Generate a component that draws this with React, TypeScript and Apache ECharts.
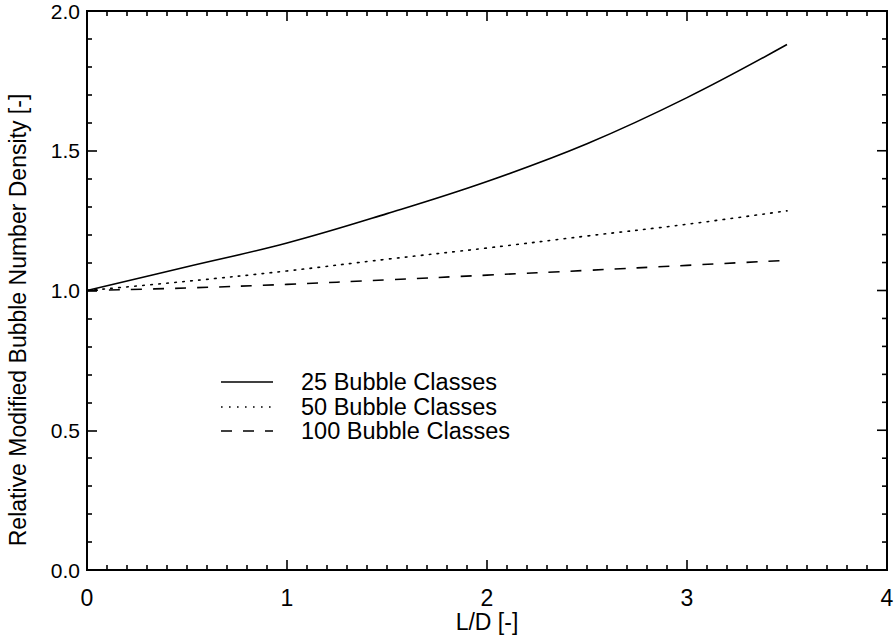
import React, { useEffect, useRef } from "react";
import * as echarts from "echarts";

const xValues = [0, 0.5, 1, 1.5, 2, 2.5, 3, 3.5];
const classes25 = [1.0, 1.085, 1.17, 1.275, 1.39, 1.525, 1.69, 1.88];
const classes50 = [1.0, 1.033, 1.07, 1.112, 1.152, 1.195, 1.237, 1.285];
const classes100 = [1.0, 1.009, 1.022, 1.038, 1.055, 1.072, 1.09, 1.108];
const seriesNames = ["25 Bubble Classes", "50 Bubble Classes", "100 Bubble Classes"];
const xAxisTitle = "L/D [-]";
const yAxisTitle = "Relative Modified Bubble Number Density [-]";
const X_MIN = 0, X_MAX = 4, X_MAJOR = 1, X_MINOR_DIV = 10;
const Y_MIN = 0, Y_MAX = 2, Y_MAJOR = 0.5, Y_MINOR_DIV = 5;

const FONT = "'Liberation Sans', Arial, Helvetica, sans-serif";

export default function App() {
  const ref = useRef<HTMLDivElement>(null);
  useEffect(() => {
    if (!ref.current) return;
    const chart = echarts.init(ref.current, undefined, { renderer: "svg" });
    const toPairs = (ys: number[]) => xValues.map((x, i) => [x, ys[i]]);
    const lineDashes: any[] = ["solid", [1.6, 6.4], [11, 11]];
    const allSeries = [classes25, classes50, classes100];

    // mirror tick rows: [axis (0 = top, 1 = right), value, isMajor]
    const mirrorTicks: number[][] = [];
    const nx = Math.round((X_MAX - X_MIN) / X_MAJOR) * X_MINOR_DIV;
    for (let k = 1; k < nx; k++) {
      const v = X_MIN + (k * X_MAJOR) / X_MINOR_DIV;
      mirrorTicks.push([0, v, k % X_MINOR_DIV === 0 ? 1 : 0]);
    }
    const ny = Math.round((Y_MAX - Y_MIN) / Y_MAJOR) * Y_MINOR_DIV;
    for (let k = 1; k < ny; k++) {
      const v = Y_MIN + (k * Y_MAJOR) / Y_MINOR_DIV;
      mirrorTicks.push([1, v, k % Y_MINOR_DIV === 0 ? 1 : 0]);
    }

    const axisLine = { show: true, onZero: false, lineStyle: { color: "#000", width: 2 } };
    const mkTick = () => ({ show: true, inside: true, interval: 0, length: 10, lineStyle: { color: "#000", width: 1.6 } });
    const mkMinor = (n: number) => ({ show: true, splitNumber: n, length: 5, lineStyle: { color: "#000", width: 1.6 } });

    const legendY = [382, 407, 431];
    const legendGraphics: any[] = [];
    seriesNames.forEach((name, i) => {
      legendGraphics.push({
        type: "line",
        shape: { x1: 221, y1: legendY[i], x2: 273, y2: legendY[i] },
        style: { stroke: "#000", lineWidth: 1.5, lineDash: i === 0 ? null : lineDashes[i] },
      });
      legendGraphics.push({
        type: "text",
        x: 301,
        y: legendY[i],
        style: { text: name, fill: "#000", font: `23.5px ${FONT}`, verticalAlign: "middle", align: "left" },
      });
    });

    chart.setOption({
      animation: false,
      backgroundColor: "#fff",
      textStyle: { fontFamily: FONT, color: "#000" },
      grid: {
        left: 87,
        top: 11,
        width: 800,
        height: 559,
        containLabel: false,
        outerBoundsMode: "none",
        show: true,
        borderColor: "#000",
        borderWidth: 2,
        backgroundColor: "transparent",
      },
      xAxis: {
        type: "value",
        position: "bottom",
        min: X_MIN,
        max: X_MAX,
        interval: X_MAJOR,
        axisLine,
        axisTick: mkTick(),
        minorTick: mkMinor(X_MINOR_DIV),
        splitLine: { show: false },
        axisLabel: { show: true, color: "#000", fontSize: 23, lineHeight: 22, fontFamily: FONT, margin: 17 },
        name: xAxisTitle,
        nameLocation: "middle",
        nameGap: 41,
        nameMoveOverlap: false,
        nameTextStyle: { color: "#000", fontSize: 23, lineHeight: 22, fontFamily: FONT },
      },
      yAxis: {
        type: "value",
        position: "left",
        min: Y_MIN,
        max: Y_MAX,
        interval: Y_MAJOR,
        axisLine,
        axisTick: mkTick(),
        minorTick: mkMinor(Y_MINOR_DIV),
        splitLine: { show: false },
        axisLabel: {
          show: true,
          color: "#000",
          fontSize: 21,
          lineHeight: 20,
          fontFamily: FONT,
          margin: 7,
          formatter: (v: number) => v.toFixed(1),
        },
      },
      series: [
        ...allSeries.map((ys, i) => ({
          name: seriesNames[i],
          type: "line",
          data: toPairs(ys),
          smooth: 0.4,
          symbol: "none",
          lineStyle: { color: "#000", width: 1.6, type: lineDashes[i], cap: i === 1 ? "round" : "butt" },
        })),
        {
          name: "mirror ticks",
          type: "custom",
          silent: true,
          clip: false,
          data: mirrorTicks,
          encode: { x: 1, y: 1 },
          renderItem: (_params: any, api: any) => {
            const side = api.value(0);
            const v = api.value(1);
            const len = api.value(2) ? 10 : 5;
            if (side === 0) {
              const p = api.coord([v, Y_MAX]);
              return {
                type: "line",
                shape: { x1: p[0], y1: p[1], x2: p[0], y2: p[1] + len },
                style: { stroke: "#000", lineWidth: 1.6 },
              };
            }
            const p = api.coord([X_MAX, v]);
            return {
              type: "line",
              shape: { x1: p[0] - len, y1: p[1], x2: p[0], y2: p[1] },
              style: { stroke: "#000", lineWidth: 1.6 },
            };
          },
        },
      ],
      graphic: [
        {
          type: "text",
          x: 18,
          y: 320,
          rotation: Math.PI / 2,
          style: { text: yAxisTitle, fill: "#000", font: `23px ${FONT}`, align: "center", verticalAlign: "middle" },
        },
        ...legendGraphics,
      ],
    });
    return () => chart.dispose();
  }, []);
  return (
    <div ref={ref} style={{ position: "absolute", left: 0, top: 0, width: 895, height: 635, background: "#fff" }} />
  );
}
